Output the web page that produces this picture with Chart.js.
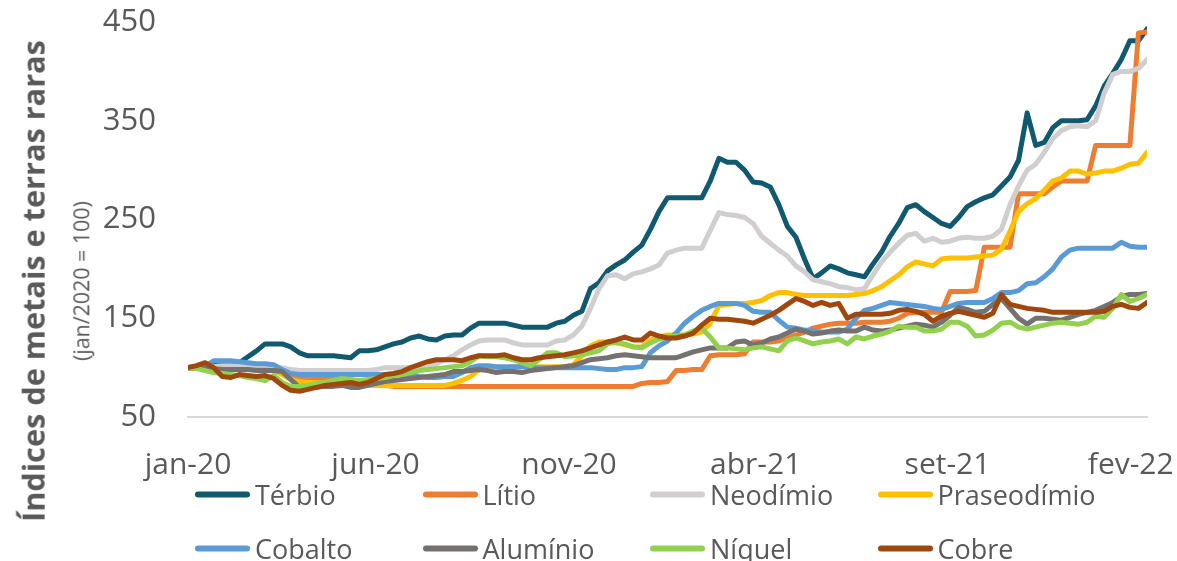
<!DOCTYPE html>
<html>
<head>
<meta charset="utf-8">
<title>Índices de metais e terras raras</title>
<script src="https://cdn.jsdelivr.net/npm/chart.js@4.4.1/dist/chart.umd.min.js"></script>
<style>
  body { margin: 0; background: #fff; }
  #wrap { position: relative; width: 1177px; height: 561px; font-family: 'Open Sans', sans-serif; color: #595959; overflow: hidden; }
  #chart { position: absolute; left: 0; top: 0; }
  .ytitle { position: absolute; white-space: nowrap; transform: translate(-50%, -50%) rotate(-90deg); line-height: 1; }
  #t1 { left: 33px; top: 281px; font-weight: bold; }
  #t2 { left: 81px; top: 281px; }
  .leg { position: absolute; display: flex; align-items: center; font-size: 27px; white-space: nowrap; transform: translateY(-50%); }
  .leg span.sw { display: inline-block; width: 55px; height: 6px; border-radius: 3px; margin-right: 5px; }
</style>
</head>
<body>
<div id="wrap">
  <canvas id="chart" width="1177" height="561"></canvas>
  <div class="ytitle" id="t1">Índices de metais e terras raras</div>
  <div class="ytitle" id="t2">(jan/2020 = 100)</div>
  <div id="legend"></div>
</div>
<script>
// weekly series, jan/2020 = 100
var seriesNames = ['Térbio', 'Lítio', 'Neodímio', 'Praseodímio', 'Cobalto', 'Alumínio', 'Níquel', 'Cobre'];
var seriesColors = ['#10596F', '#ED7D31', '#D0CECE', '#FFC000', '#5B9BD5', '#767171', '#92D050', '#9E480E'];

var tickLabels = ['jan-20', 'jun-20', 'nov-20', 'abr-21', 'set-21', 'fev-22'];
var tickWeeks = [0, 21.9, 44.5, 66.3, 88.7, 110.1];
var yTicks = [50, 150, 250, 350, 450];

var terbio = [100,101,102,103,103,103,105,111,117,124,
  124,124,121,115,112,112,112,112,111,110,
  117,117,118,121,124,126,130,132,129,128,
  132,133,133,140,145,145,145,145,143,141,
  141,141,141,145,147,153,157,180,186,198,
  204,209,217,224,240,258,272,272,272,272,
  272,289,312,308,308,300,288,287,283,265,
  243,232,210,190,196,203,200,196,194,192,
  205,217,233,246,262,265,258,252,246,243,
  252,263,268,272,275,284,293,310,358,325,
  328,343,350,350,350,351,365,385,398,412,
  431,431,443];

var litio = [100,99,99,98,98,98,98,98,98,97,
  97,97,93,89,89,89,88,88,87,86,
  85,84,83,82,81,81,81,81,81,81,
  81,81,81,81,81,81,81,81,81,81,
  81,81,81,81,81,81,81,81,81,81,
  81,81,81,84,85,85,86,97,97,98,
  98,112,113,113,113,114,126,126,126,127,
  130,133,136,140,142,144,145,145,145,146,
  146,146,147,150,155,156,156,156,156,177,
  177,177,178,222,222,222,222,276,276,276,
  276,283,289,289,289,289,325,325,325,325,
  325,439,440];

var neodimio = [100,100,101,101,102,102,102,102,102,102,
  101,100,98,97,97,97,97,97,97,97,
  97,97,98,100,100,100,100,100,100,104,
  108,112,118,123,127,128,128,128,125,123,
  123,123,123,127,128,133,142,160,180,193,
  194,190,195,197,200,204,216,219,221,221,
  221,239,257,255,254,252,246,233,226,219,
  213,203,197,189,187,185,182,181,179,180,
  194,207,217,226,234,236,228,231,227,228,
  231,232,231,231,233,240,265,284,300,306,
  318,332,340,344,345,344,350,378,397,400,
  400,403,412];

var praseodimio = [100,99,99,99,98,98,98,98,98,98,
  97,93,88,86,85,85,84,84,84,83,
  83,82,82,82,82,82,82,82,82,82,
  82,84,87,91,98,100,100,100,101,101,
  101,101,101,101,101,103,112,122,126,126,
  125,123,121,121,128,131,133,133,133,134,
  136,145,163,164,165,165,166,168,173,176,
  176,174,173,173,173,173,173,173,174,175,
  178,182,188,194,202,207,205,203,210,211,
  211,211,212,213,214,220,238,258,266,271,
  280,289,292,299,299,296,297,299,299,302,
  306,307,318];

var cobalto = [100,100,101,107,107,107,106,105,104,104,
  103,98,94,93,93,93,93,93,93,93,
  93,93,93,93,93,93,93,91,90,90,
  91,91,95,100,102,102,101,101,101,101,
  100,100,100,100,100,100,100,100,99,98,
  98,100,100,101,115,122,127,135,145,152,
  158,162,165,165,165,163,157,156,156,148,
  141,140,138,137,136,136,136,139,150,158,
  160,163,166,165,164,163,162,160,159,162,
  165,166,166,166,170,176,176,178,185,186,
  192,200,212,219,221,221,221,221,221,227,
  223,222,222];

var aluminio = [100,100,99,99,98,98,98,98,97,97,
  97,96,88,80,80,80,81,81,82,80,
  80,82,84,86,87,88,89,90,91,92,
  93,96,96,97,98,97,95,96,96,95,
  97,98,99,100,101,102,105,108,109,110,
  112,113,112,111,110,110,110,110,113,116,
  118,120,120,120,126,127,123,125,129,131,
  135,139,137,134,135,137,138,137,137,141,
  138,137,138,140,142,144,143,141,146,153,
  161,159,156,157,164,170,160,150,144,150,
  150,149,148,151,154,156,158,162,166,172,
  174,174,175];

var niquel = [100,99,97,95,94,93,92,90,89,87,
  92,85,81,81,82,84,85,87,89,88,
  87,88,89,90,92,93,95,97,98,99,
  100,101,102,106,112,111,111,110,108,105,
  102,108,115,115,111,112,113,115,117,124,
  126,124,121,120,125,129,131,132,133,137,
  140,131,120,120,119,118,120,121,119,117,
  127,130,127,124,126,127,129,124,131,129,
  132,134,137,142,141,141,137,137,139,146,
  146,142,132,133,138,145,146,141,139,141,
  143,145,146,145,144,146,152,151,160,174,
  167,170,174];

var cobre = [100,102,105,100,91,90,93,92,91,92,
  89,82,77,76,78,80,82,83,84,85,
  83,85,89,93,94,96,100,103,106,108,
  108,108,107,110,112,112,112,113,110,108,
  108,110,111,112,113,115,117,120,123,126,
  128,131,128,128,135,132,130,130,132,135,
  143,150,149,149,148,147,145,149,153,158,
  164,170,167,163,166,163,165,150,154,154,
  154,154,155,158,159,157,154,147,152,155,
  157,155,153,151,155,174,164,162,160,159,
  158,156,156,156,156,156,156,157,162,164,
  161,160,166];

var seriesValues = [terbio, litio, neodimio, praseodimio, cobalto, aluminio, niquel, cobre];

var datasets = seriesValues.map(function (vals, i) {
    return {
        label: seriesNames[i],
        data: vals.map(function (v, w) { return { x: w, y: v }; }),
        borderColor: seriesColors[i],
        backgroundColor: seriesColors[i],
        order: seriesValues.length - i   // last series on top, like the original
    };
});

var textColor = '#595959';

new Chart(document.getElementById('chart'), {
    type: 'line',
    data: { datasets: datasets },
    options: {
        responsive: false,
        animation: false,
        layout: { padding: { top: 22, right: 30, left: 0, bottom: 0 } },
        plugins: { legend: { display: false }, tooltip: { enabled: false } },
        elements: {
            point: { radius: 0 },
            line: { borderWidth: 5, tension: 0, borderCapStyle: 'round', borderJoinStyle: 'round' }
        },
        scales: {
            x: {
                type: 'linear',
                min: 0,
                max: terbio.length - 1,
                grid: { display: false },
                border: { color: '#D9D9D9', width: 2 },
                afterBuildTicks: function (s) { s.ticks = tickWeeks.map(function (v) { return { value: v }; }); },
                afterFit: function (s) { s.height = 561 - 417; s.paddingLeft = 0; s.paddingRight = 0; },
                ticks: {
                    autoSkip: false, maxRotation: 0, padding: 22, color: textColor,
                    font: { family: 'Open Sans', size: 30 },
                    callback: function (v, i) { return tickLabels[i]; }
                }
            },
            y: {
                min: 50,
                max: 450,
                grid: { display: false },
                border: { display: false },
                afterBuildTicks: function (s) { s.ticks = yTicks.map(function (v) { return { value: v }; }); },
                afterFit: function (s) { s.width = 188; s.paddingTop = 0; s.paddingBottom = 0; },
                ticks: { padding: 24, color: textColor, font: { family: 'Open Sans', size: 31 } }
            }
        }
    }
});

// legend, 2 rows x 4 columns
var legend = document.getElementById('legend');
seriesNames.forEach(function (name, i) {
    var el = document.createElement('div');
    el.className = 'leg';
    el.style.left = (195 + (i % 4) * 227.5) + 'px';
    el.style.top = (494 + Math.floor(i / 4) * 54) + 'px';
    el.innerHTML = '<span class="sw" style="background:' + seriesColors[i] + '"></span>' + name;
    legend.appendChild(el);
});

// fit the rotated titles to the length they have in the original
function fitText(id, weight, targetLen) {
    var el = document.getElementById(id);
    var ctx = document.createElement('canvas').getContext('2d');
    ctx.font = weight + ' 30px "Open Sans"';
    var w = ctx.measureText(el.textContent).width;
    el.style.fontSize = (30 * targetLen / w).toFixed(1) + 'px';
}
fitText('t1', 'bold', 482);
fitText('t2', 'normal', 160);
</script>
</body>
</html>
